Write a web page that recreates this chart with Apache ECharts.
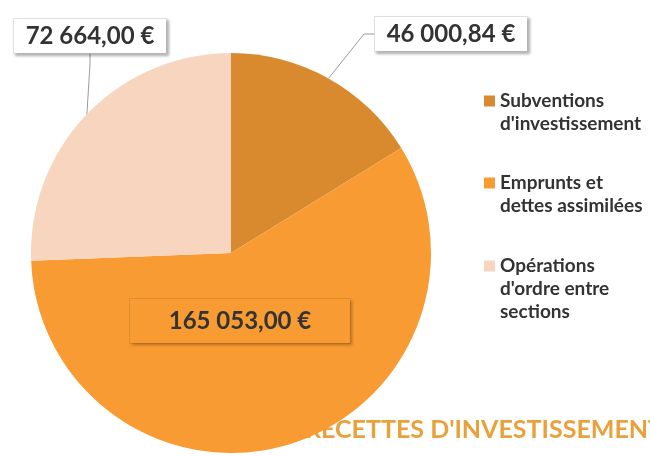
<!DOCTYPE html>
<html>
<head>
<meta charset="utf-8">
<script src="https://cdn.jsdelivr.net/npm/echarts@6/dist/echarts.min.js"></script>
<style>
  html, body { margin: 0; padding: 0; background: #fff; }
  #main { width: 650px; height: 456px; }
</style>
</head>
<body>
<div id="main"></div>
<script>
var categories = ['Subventions\nd\'investissement', 'Emprunts et\ndettes assimilées', 'Opérations\nd\'ordre entre\nsections'];
var values = [46000.84, 165053.00, 72664.00];
var colors = ['#D98A2E', '#F89B33', '#F8D5BE'];
var chartTitle = 'RECETTES D\'INVESTISSEMENT';

// where each value label sits (centre of the box)
var labelSpots = [[451, 34], [240, 321], [90, 36]];
// first legend line centres
var legendRows = [101, 183, 266];

function euro(v) {
  var parts = v.toFixed(2).split('.');
  var ent = parts[0].replace(/\B(?=(\d{3})+(?!\d))/g, ' ');
  return ent + ',' + parts[1] + ' €';
}

var chartDom = document.getElementById('main');
var myChart = echarts.init(chartDom);
var option;

var lineH = 23;
// one legend per entry so the swatch can sit on the first line
var legends = categories.map(function (name, i) {
  var n = name.split('\n').length;
  var blockH = lineH * (2 * n - 1);
  return {
    data: [name],
    orient: 'vertical',
    left: 479,
    top: legendRows[i] - blockH / 2 - 5,
    icon: 'rect',
    itemWidth: 11,
    itemHeight: 11,
    selectedMode: false,
    // blank lines on top push the first text line onto the swatch
    formatter: function (nm) {
      return new Array(n).join('\n') + nm;
    },
    textStyle: {
      fontFamily: 'Lato',
      fontWeight: 'bold',
      fontSize: 19,
      lineHeight: lineH,
      color: '#333'
    }
  };
});

option = {
  animation: false,
  color: colors,
  title: {
    text: chartTitle,
    left: 300,
    top: 412,
    z: 1,
    textStyle: {
      fontFamily: 'Lato',
      fontWeight: 'bold',
      fontSize: 25,
      color: '#E9A23B'
    }
  },
  legend: legends,
  series: [
    {
      type: 'pie',
      z: 2,
      center: [231, 253],
      radius: 200,
      startAngle: 90,
      clockwise: true,
      silent: true,
      label: {
        show: true,
        formatter: function (p) { return euro(p.value); },
        width: 130,
        overflow: 'none',
        fontFamily: 'Lato',
        fontWeight: 'bold',
        fontSize: 24,
        color: '#333',
        backgroundColor: '#fff',
        borderColor: '#e2e2e2',
        borderWidth: 1,
        padding: [5, 11, 5, 11],
        shadowColor: 'rgba(0,0,0,0.25)',
        shadowBlur: 3,
        shadowOffsetX: 2,
        shadowOffsetY: 2
      },
      labelLine: {
        show: true,
        length: 10,
        length2: 10,
        lineStyle: { color: '#9a9a9a', width: 1 }
      },
      labelLayout: function (params) {
        var s = labelSpots[params.dataIndex];
        return { x: s[0], y: s[1], align: 'center', verticalAlign: 'middle' };
      },
      data: categories.map(function (name, i) {
        var item = { name: name, value: values[i] };
        if (i === 1) {
          item.label = {
            position: 'inside',
            width: 152,
            backgroundColor: colors[1],
            borderColor: 'rgba(0,0,0,0.08)',
            padding: [10, 34, 10, 34]
          };
          item.labelLine = { show: false };
        }
        return item;
      })
    }
  ]
};

option && myChart.setOption(option);
</script>
</body>
</html>
